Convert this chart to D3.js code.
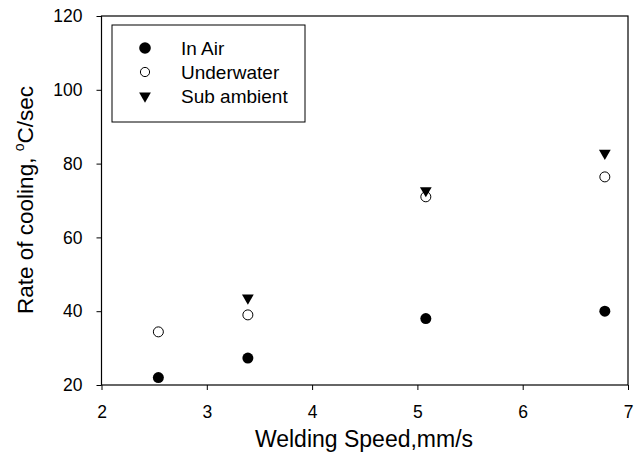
<!DOCTYPE html>
<html><head><meta charset="utf-8">
<script src="https://cdn.jsdelivr.net/npm/d3@7"></script>
<style>body{margin:0;background:#fff}svg{display:block}text{font-family:Arial,"Liberation Sans",sans-serif;fill:#000}</style>
</head><body><svg id="c" width="642" height="464"></svg>
<script>
const speeds = [2.54, 3.39, 5.08, 6.78];
const inAir = [22.0, 27.3, 38.0, 40.0];
const underwater = [34.4, 39.0, 71.0, 76.4];
const subSpeeds = [3.39, 5.08, 6.78];
const subAmbient = [43.6, 72.7, 82.8];
const xTicks = [2, 3, 4, 5, 6, 7];
const yTicks = [20, 40, 60, 80, 100, 120];
const legendLabels = ["In Air", "Underwater", "Sub ambient"];

const svg = d3.select("#c");
const L = 101.5, R = 628, T = 16, B = 385;
const x = d3.scaleLinear().domain([2, 7]).range([L, R]);
const y = d3.scaleLinear().domain([20, 120]).range([B, T]);

const xa = svg.append("g").attr("transform", `translate(0,${B})`)
  .call(d3.axisBottom(x).tickValues(xTicks).tickSize(5).tickPadding(16).tickFormat(d3.format("d")));
const ya = svg.append("g").attr("transform", `translate(${L},0)`)
  .call(d3.axisLeft(y).tickValues(yTicks).tickSize(5).tickPadding(14).tickFormat(d3.format("d")));
[xa, ya].forEach(a => {
  a.select(".domain").remove();
  a.selectAll("line").attr("stroke", "#000").attr("stroke-width", 1);
  a.selectAll("text").attr("font-size", 17.5).attr("font-family", "Arial, Liberation Sans, sans-serif").attr("fill", "#000");
});
svg.append("rect").attr("x", L).attr("y", T).attr("width", R - L).attr("height", B - T)
  .attr("fill", "none").attr("stroke", "#000").attr("stroke-width", 1.2);

const tri = d3.symbol().type(d3.symbolTriangle).size(60);
const g = svg.append("g");
g.selectAll(".air").data(speeds.map((s, i) => [s, inAir[i]])).join("circle")
  .attr("cx", d => x(d[0])).attr("cy", d => y(d[1])).attr("r", 5.5).attr("fill", "#000");
g.selectAll(".uw").data(speeds.map((s, i) => [s, underwater[i]])).join("circle")
  .attr("cx", d => x(d[0])).attr("cy", d => y(d[1])).attr("r", 5).attr("fill", "none").attr("stroke", "#000").attr("stroke-width", 1);
g.selectAll(".sub").data(subSpeeds.map((s, i) => [s, subAmbient[i]])).join("path")
  .attr("d", tri).attr("fill", "#000")
  .attr("transform", d => `translate(${x(d[0])},${y(d[1])}) rotate(180)`);

// legend
const lg = svg.append("g");
lg.append("rect").attr("x", 112).attr("y", 25).attr("width", 193).attr("height", 97)
  .attr("fill", "#fff").attr("stroke", "#000").attr("stroke-width", 1);
const ly = [48, 72, 96];
legendLabels.forEach((t, i) => {
  const cy = ly[i], cx = 145;
  if (i === 0) lg.append("circle").attr("cx", cx).attr("cy", cy).attr("r", 5.8).attr("fill", "#000");
  else if (i === 1) lg.append("circle").attr("cx", cx).attr("cy", cy).attr("r", 4.6).attr("fill", "none").attr("stroke", "#000");
  else lg.append("path").attr("d", tri).attr("fill", "#000").attr("transform", `translate(${cx},${cy}) rotate(180)`);
  lg.append("text").attr("x", 181).attr("y", cy).attr("dy", "0.36em").attr("font-size", 19).text(t);
});

svg.append("text").attr("x", 364).attr("y", 447).attr("text-anchor", "middle")
  .attr("font-size", 23).text("Welding Speed,mm/s");
const yt = svg.append("text").attr("transform", `translate(33,200) rotate(-90)`)
  .attr("text-anchor", "middle").attr("font-size", 22.5);
yt.append("tspan").text("Rate of cooling, ");
yt.append("tspan").attr("font-size", 14).attr("dy", -9).text("o");
yt.append("tspan").attr("dy", 9).text("C/sec");
</script></body></html>
